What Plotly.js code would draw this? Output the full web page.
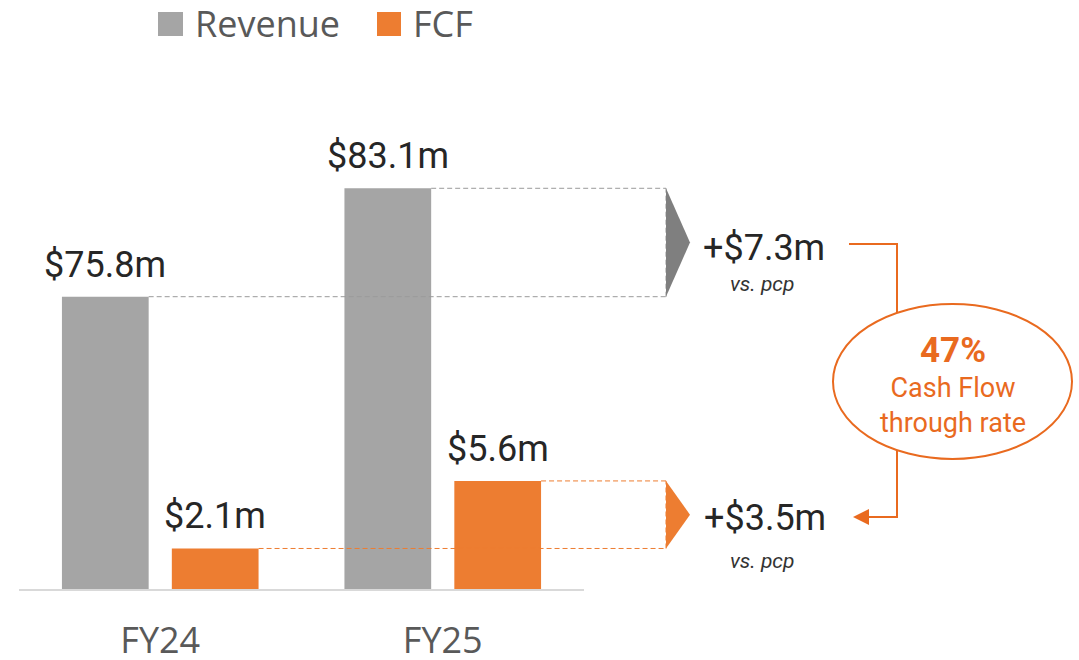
<!DOCTYPE html>
<html><head><meta charset="utf-8">
<script src="https://cdn.plot.ly/plotly-3.0.1.min.js"></script>
<style>html,body{margin:0;padding:0;background:#fff}#chart{width:1079px;height:660px}</style>
</head><body><div id="chart"></div>
<script>
// ---- data ----
const categories = ['FY24', 'FY25'];
const seriesNames = ['Revenue', 'FCF'];
const revenue = [75.8, 83.1];
const fcf = [2.1, 5.6];
const revenueLabels = ['$75.8m', '$83.1m'];
const fcfLabels = ['$2.1m', '$5.6m'];
const deltaLabels = ['+$7.3m', '+$3.5m'];
const deltaNote = 'vs. pcp';
const flowRate = '47%';
const flowText = 'Cash Flow<br>through rate';

// ---- styling / geometry ----
const W = 1079, Hh = 660;
const L = 19, R = 584, T = 100, B = 589;
const PW = R - L, PH = B - T;
const GREY = '#a5a5a5', ORANGE = '#ed7d31', DARKGREY = '#7f7f7f', ACCENT = '#e96a1f';
const TXT = '#262626', AXTXT = '#595959';
const barW = 0.307, revOff = -0.348, fcfOff = 0.041;
const revRange = [56.115, 89.046];
const fcfRange = [0, 25.34];
const xRange = [-0.5, 1.5];

const px = x => (x - L) / PW;          // pixel x -> paper
const py = y => (B - y) / PH;          // pixel y -> paper
const catPaper = v => (v - xRange[0]) / (xRange[1] - xRange[0]);

const traces = [
  { type: 'bar', name: seriesNames[0], x: categories, y: revenue, yaxis: 'y',
    width: barW, offset: revOff, marker: { color: GREY }, hoverinfo: 'skip' },
  { type: 'bar', name: seriesNames[1], x: categories, y: fcf, yaxis: 'y2',
    width: barW, offset: fcfOff, marker: { color: ORANGE }, hoverinfo: 'skip' }
];

const shapes = [];
const annotations = [];
const labelFont = { family: 'Roboto', size: 36, color: TXT };
const noteFont = { family: 'Roboto', size: 21, color: '#333333' };

// bar value labels
categories.forEach((c, i) => {
  annotations.push({ xref: 'x', yref: 'y', x: i + revOff + barW / 2, y: revenue[i],
    text: revenueLabels[i], showarrow: false, yanchor: 'middle', yshift: 32, font: labelFont });
  annotations.push({ xref: 'x', yref: 'y2', x: i + fcfOff + barW / 2, y: fcf[i],
    text: fcfLabels[i], showarrow: false, yanchor: 'middle', yshift: 32, font: labelFont });
});

// dashed guides + triangles
const xGuide = px(666), xTip = px(690);
function guides(vals, off, yref, col, triCol) {
  vals.forEach((v, i) => {
    shapes.push({ type: 'line', xref: 'paper', yref: yref,
      x0: catPaper(i + off + barW), x1: xGuide, y0: v, y1: v,
      line: { color: col, width: 1, dash: '5px,3px' } });
  });
  shapes.push({ type: 'line', xref: 'paper', yref: yref, x0: xGuide, x1: xGuide,
    y0: vals[0], y1: vals[1], line: { color: col, width: 1, dash: '5px,3px' } });
  const mid = (vals[0] + vals[1]) / 2;
  shapes.push({ type: 'path', xref: 'paper', yref: yref,
    path: `M${xGuide},${vals[0]} L${xTip},${mid} L${xGuide},${vals[1]} Z`,
    fillcolor: triCol, line: { width: 0 } });
}
guides(revenue, revOff, 'y', '#9a9a9a', DARKGREY);
guides(fcf, fcfOff, 'y2', ORANGE, ORANGE);

// delta texts
annotations.push({ xref: 'paper', yref: 'paper', x: px(764), y: py(248), text: deltaLabels[0],
  showarrow: false, font: labelFont, xanchor: 'center', yanchor: 'middle' });
annotations.push({ xref: 'paper', yref: 'paper', x: px(762), y: py(284), text: '<i>' + deltaNote + '</i>',
  showarrow: false, font: noteFont, xanchor: 'center', yanchor: 'middle' });
annotations.push({ xref: 'paper', yref: 'paper', x: px(765), y: py(518), text: deltaLabels[1],
  showarrow: false, font: labelFont, xanchor: 'center', yanchor: 'middle' });
annotations.push({ xref: 'paper', yref: 'paper', x: px(762), y: py(561), text: '<i>' + deltaNote + '</i>',
  showarrow: false, font: noteFont, xanchor: 'center', yanchor: 'middle' });

// connector + ellipse
shapes.push({ type: 'path', xref: 'paper', yref: 'paper',
  path: `M${px(849)},${py(244)} L${px(897)},${py(244)} L${px(897)},${py(517)} L${px(866)},${py(517)}`,
  line: { color: ACCENT, width: 2 } });
shapes.push({ type: 'path', xref: 'paper', yref: 'paper',
  path: `M${px(853)},${py(517)} L${px(869)},${py(509)} L${px(869)},${py(525)} Z`,
  fillcolor: ACCENT, line: { width: 0 } });
shapes.push({ type: 'circle', xref: 'paper', yref: 'paper',
  x0: px(833), x1: px(1072), y0: py(459), y1: py(304),
  fillcolor: '#ffffff', line: { color: ACCENT, width: 2 } });
annotations.push({ xref: 'paper', yref: 'paper', x: px(953), y: py(350), text: '<b>' + flowRate + '</b>',
  showarrow: false, font: { family: 'Roboto', size: 35, color: ACCENT }, xanchor: 'center', yanchor: 'middle' });
annotations.push({ xref: 'paper', yref: 'paper', x: px(953), y: py(405), text: flowText,
  showarrow: false, font: { family: 'Roboto', size: 27, color: ACCENT }, xanchor: 'center', yanchor: 'middle' });

// legend (manual)
const legendItems = [
  { sq: [158, 183], tx: 195, color: GREY },
  { sq: [377, 401], tx: 413, color: ORANGE }
];
legendItems.forEach((it, i) => {
  shapes.push({ type: 'rect', xref: 'paper', yref: 'paper', x0: px(it.sq[0]), x1: px(it.sq[1]),
    y0: py(36), y1: py(12), fillcolor: it.color, line: { width: 0 } });
  annotations.push({ xref: 'paper', yref: 'paper', x: px(it.tx), y: py(24), text: seriesNames[i],
    showarrow: false, xanchor: 'left', yanchor: 'middle', xshift: -2,
    font: { family: 'Open Sans', size: 36, color: AXTXT } });
});

const layout = {
  width: W, height: Hh,
  margin: { l: L, r: W - R, t: T, b: Hh - B, pad: 0 },
  paper_bgcolor: '#ffffff', plot_bgcolor: '#ffffff',
  showlegend: false, barmode: 'overlay',
  xaxis: { type: 'category', categoryorder: 'array', categoryarray: categories, range: xRange,
    showline: true, linecolor: '#d9d9d9', linewidth: 2, showgrid: false, zeroline: false,
    ticks: '', ticklabelstandoff: 19, tickfont: { family: 'Open Sans', size: 36, color: AXTXT },
    fixedrange: true },
  yaxis: { range: revRange, visible: false, fixedrange: true },
  yaxis2: { range: fcfRange, overlaying: 'y', visible: false, fixedrange: true },
  shapes: shapes, annotations: annotations
};

Plotly.newPlot('chart', traces, layout, { displayModeBar: false, staticPlot: true });
</script></body></html>
